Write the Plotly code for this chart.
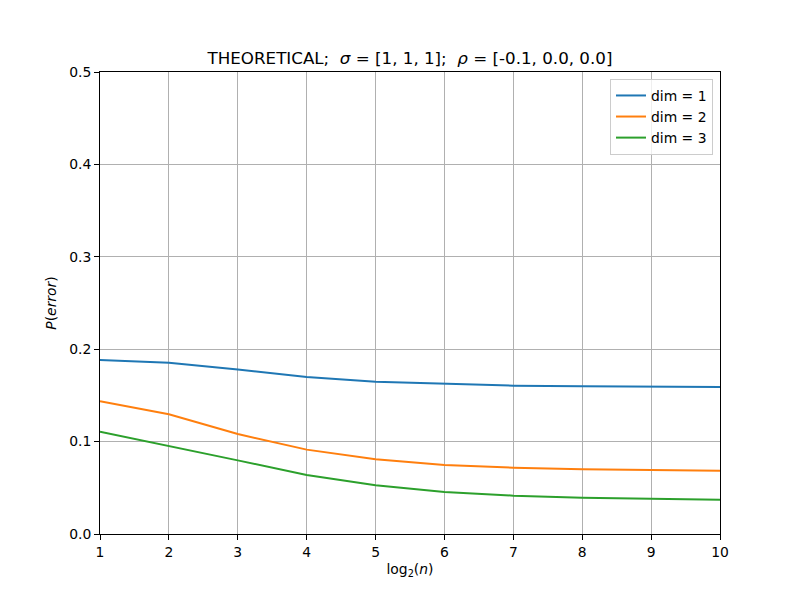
import plotly.graph_objects as go

log2_n = [1, 2, 3, 4, 5, 6, 7, 8, 9, 10]
dim1 = [0.1883, 0.1854, 0.1780, 0.1700, 0.1649, 0.1623, 0.1605, 0.1598, 0.1594, 0.1591]
dim2 = [0.1436, 0.1295, 0.1082, 0.0913, 0.0808, 0.0747, 0.0718, 0.0700, 0.0693, 0.0685]
dim3 = [0.1107, 0.0956, 0.0797, 0.0638, 0.0527, 0.0455, 0.0415, 0.0393, 0.0379, 0.0371]
series_names = ["dim = 1", "dim = 2", "dim = 3"]
colors = ["#1f77b4", "#ff7f0e", "#2ca02c"]
x_ticks = [1, 2, 3, 4, 5, 6, 7, 8, 9, 10]
y_ticks = [0.0, 0.1, 0.2, 0.3, 0.4, 0.5]

fig = go.Figure()
for name, vals, c in zip(series_names, [dim1, dim2, dim3], colors):
    fig.add_trace(go.Scatter(x=log2_n, y=vals, mode="lines", name=name,
                             line=dict(color=c, width=2)))

font = "DejaVu Sans"
fs = 13.9
axis_common = dict(
    showline=True, linecolor="black", linewidth=1, mirror=True,
    ticks="outside", ticklen=5, tickwidth=1, tickcolor="black",
    showgrid=True, gridcolor="#b0b0b0", gridwidth=1,
    zeroline=False, tickfont=dict(family=font, size=fs, color="black"),
)
fig.update_xaxes(range=[1, 10], tickvals=x_ticks, ticktext=[str(v) for v in x_ticks],
                 title=dict(text="log<sub>2</sub>(<i>n</i>)", font=dict(family=font, size=fs, color="black"), standoff=5),
                 **axis_common)
fig.update_yaxes(range=[0, 0.5], tickvals=y_ticks, ticktext=[f"{v:.1f}" for v in y_ticks],
                 title=dict(text="<i>P</i>(<i>error</i>)", font=dict(family=font, size=fs, color="black"), standoff=9),
                 **axis_common)

fig.update_layout(
    width=800, height=600,
    margin=dict(l=100, r=80, t=72, b=66),
    paper_bgcolor="white", plot_bgcolor="white",
    title=dict(text="THEORETICAL;  <i>σ</i> = [1, 1, 1];  <i>ρ</i> = [-0.1, 0.0, 0.0]",
               x=0.5125, xanchor="center", y=0.903, yanchor="middle",
               font=dict(family=font, size=16.7, color="black")),
    legend=dict(x=0.9887, xanchor="right", y=0.985, yanchor="top",
                bordercolor="#cccccc", borderwidth=1, bgcolor="rgba(255,255,255,0.8)",
                font=dict(family=font, size=fs, color="black")),
    showlegend=True,
)

fig.write_html("out.html")
